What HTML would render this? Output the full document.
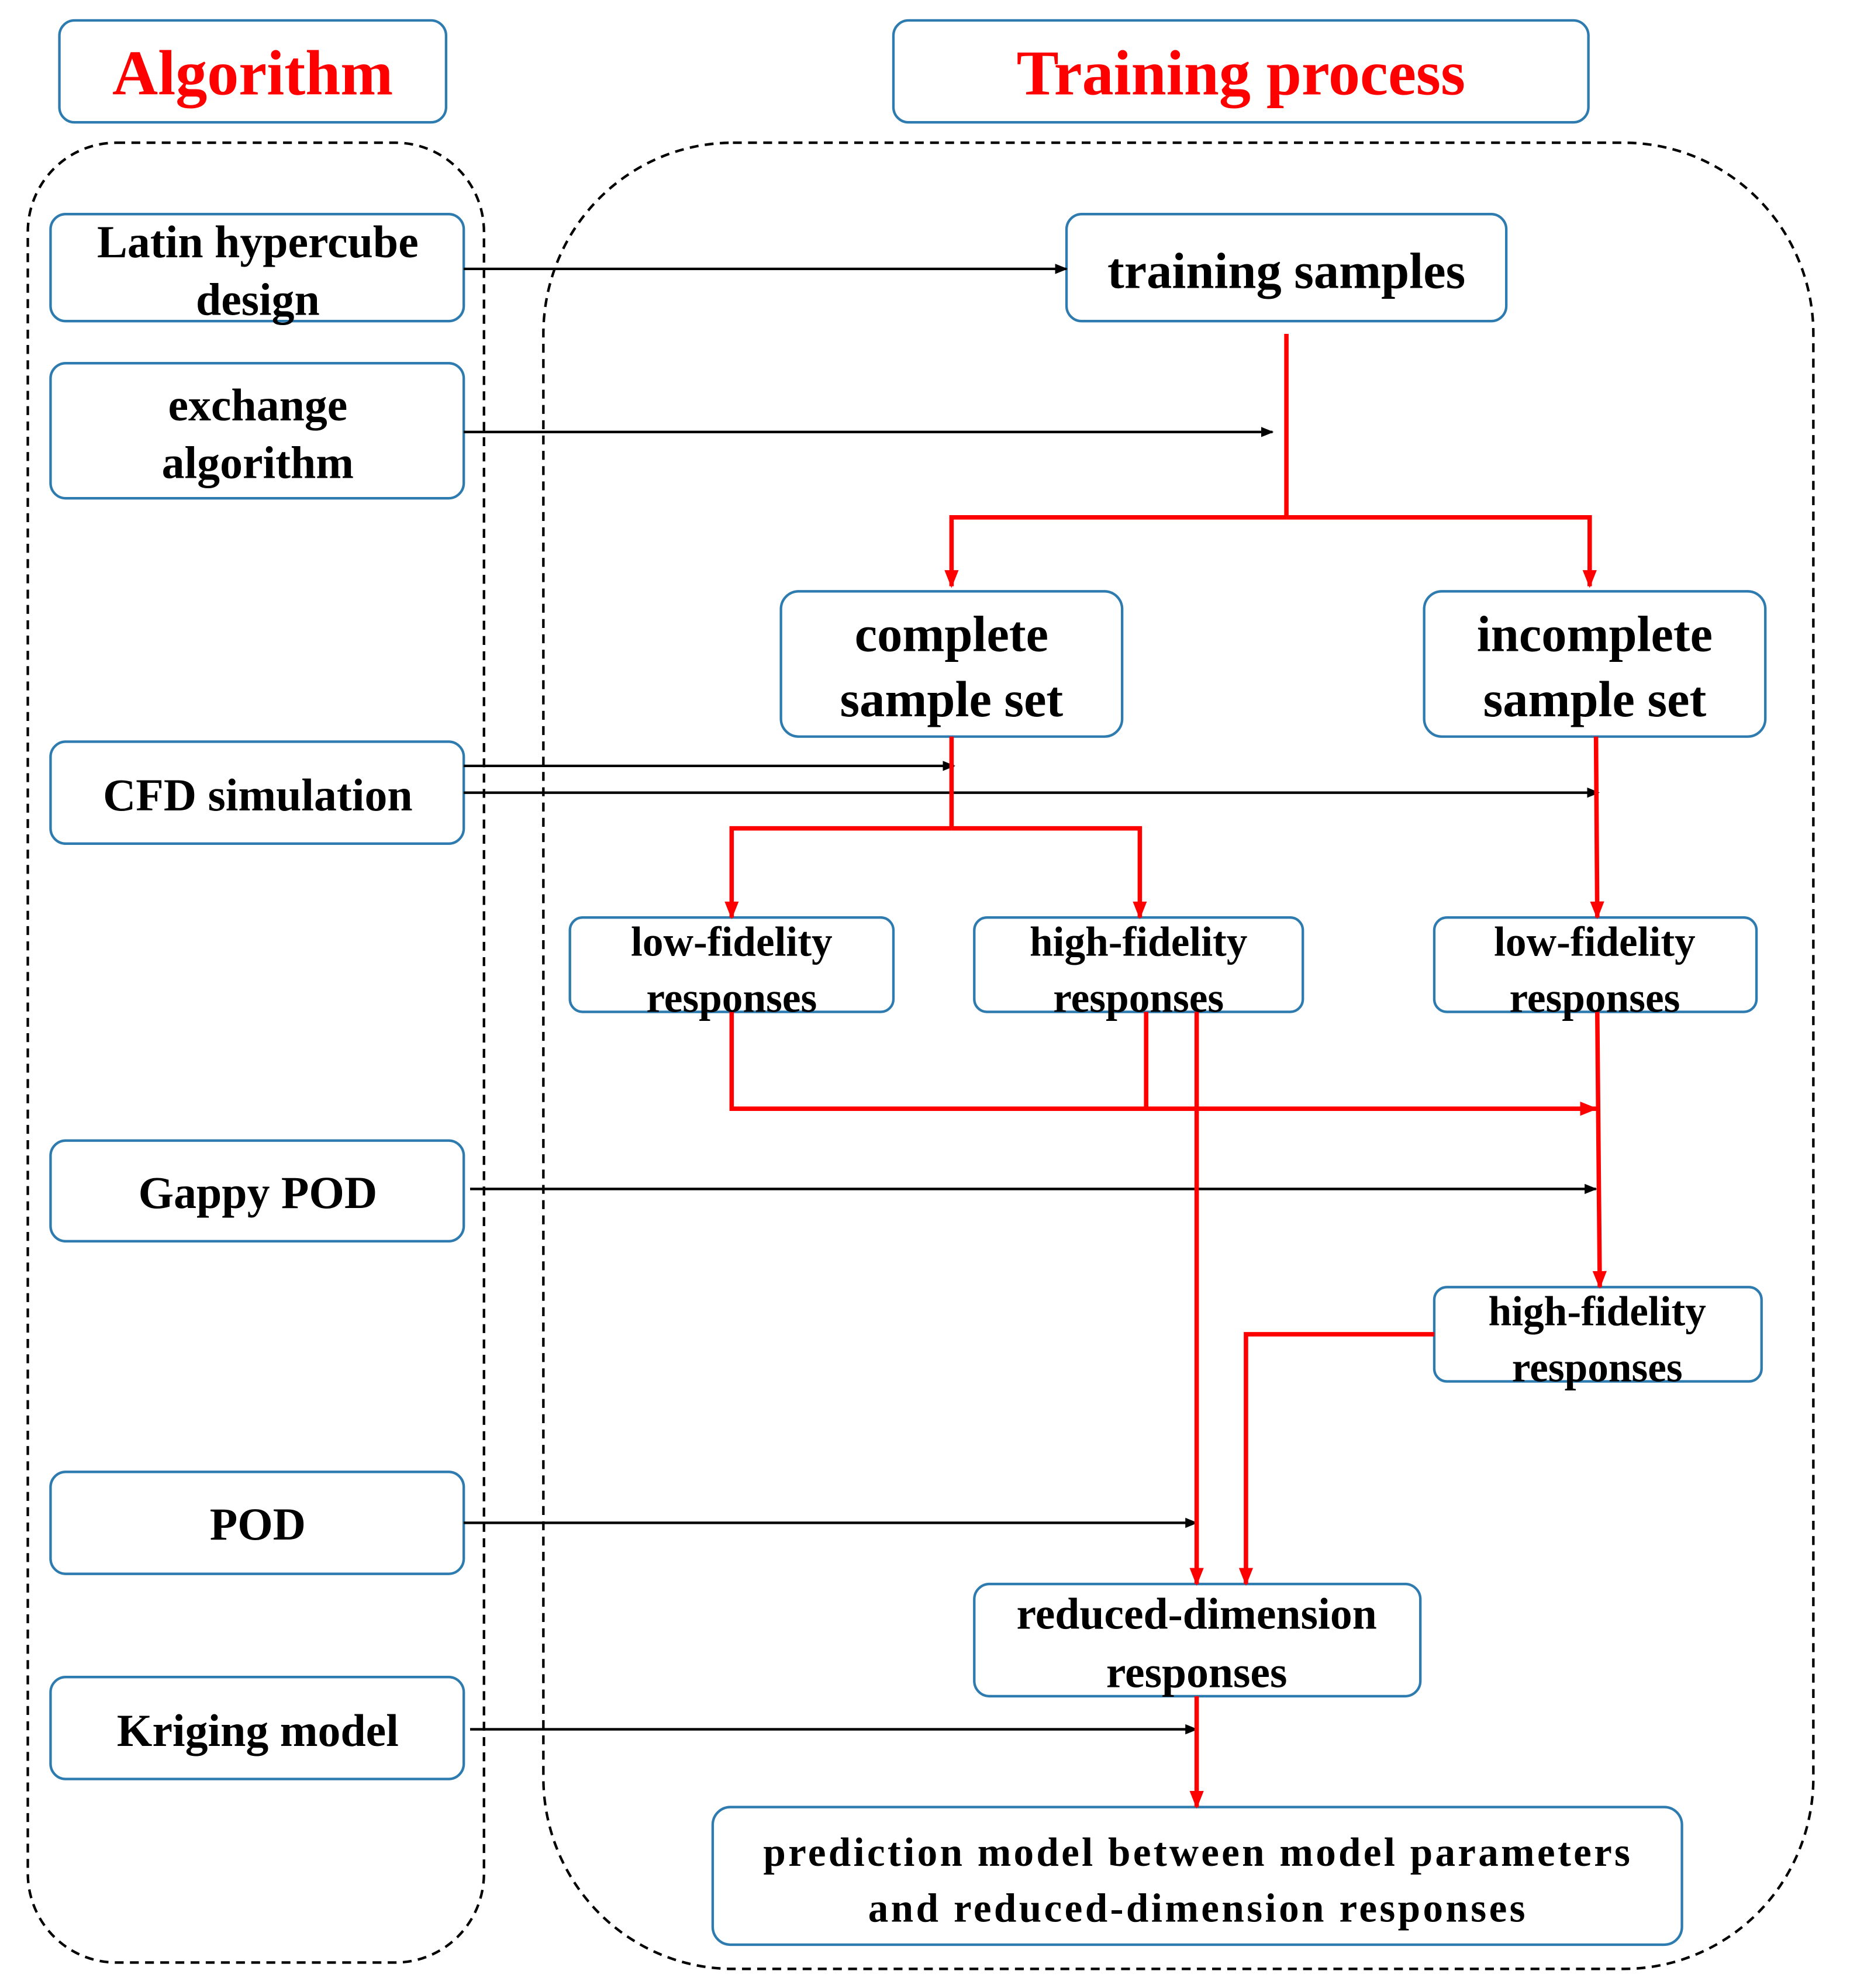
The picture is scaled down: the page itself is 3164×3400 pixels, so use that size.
<!DOCTYPE html>
<html><head><meta charset="utf-8"><style>html,body{margin:0;padding:0;background:#fff}svg{display:block}</style></head>
<body>
<svg width="3164" height="3400" viewBox="0 0 1464 1560" preserveAspectRatio="none" xmlns="http://www.w3.org/2000/svg" font-family="'Liberation Serif', serif" font-weight="bold">
<defs>
<marker id="ab" viewBox="0 0 10 10" refX="9" refY="5" markerWidth="5" markerHeight="5" orient="auto"><path d="M0,1 L10,5 L0,9 z" fill="#000"/></marker>
<marker id="ar" viewBox="0 0 10 10" refX="9" refY="5" markerWidth="4" markerHeight="4" orient="auto"><path d="M0,1 L10,5 L0,9 z" fill="#f00"/></marker>
</defs>
<g fill="none" stroke="#000" stroke-width="2" stroke-dasharray="7,5">
<rect x="22" y="112" width="361" height="1428" rx="70"/>
<rect x="430" y="112" width="1005" height="1433" rx="150"/>
</g>
<g fill="#fff" stroke="#2e7bb0" stroke-width="2">
<rect x="47" y="16" width="306" height="80" rx="12"/>
<rect x="707" y="16" width="550" height="80" rx="12"/>
<rect x="40" y="168" width="327" height="84" rx="12"/>
<rect x="40" y="285" width="327" height="106" rx="12"/>
<rect x="40" y="582" width="327" height="80" rx="12"/>
<rect x="40" y="895" width="327" height="79" rx="12"/>
<rect x="40" y="1155" width="327" height="80" rx="12"/>
<rect x="40" y="1316" width="327" height="80" rx="12"/>
<rect x="844" y="168" width="348" height="84" rx="12"/>
<rect x="618" y="464" width="270" height="114" rx="14"/>
<rect x="1127" y="464" width="270" height="114" rx="14"/>
<rect x="451" y="720" width="256" height="74" rx="10"/>
<rect x="771" y="720" width="260" height="74" rx="10"/>
<rect x="1135" y="720" width="255" height="74" rx="10"/>
<rect x="1135" y="1010" width="259" height="74" rx="10"/>
<rect x="771" y="1243" width="353" height="88" rx="12"/>
<rect x="564" y="1418" width="767" height="108" rx="14"/>
</g>
<g stroke="#000" stroke-width="2" fill="none" marker-end="url(#ab)">
<line x1="367" y1="211" x2="844" y2="211"/>
<line x1="367" y1="339" x2="1007" y2="339"/>
<line x1="367" y1="601" x2="755" y2="601"/>
<line x1="367" y1="622" x2="1265" y2="622"/>
<line x1="372" y1="933" x2="1263" y2="933"/>
<line x1="367" y1="1195" x2="947" y2="1195"/>
<line x1="372" y1="1357" x2="947" y2="1357"/>
</g>
<g stroke="#f00" stroke-width="3.5" fill="none">
<polyline points="1018,262 1018,406"/>
<polyline points="1018,406 753,406 753,460" marker-end="url(#ar)"/>
<polyline points="1018,406 1258,406 1258,460" marker-end="url(#ar)"/>
<polyline points="753,578 753,650"/>
<polyline points="753,650 579,650 579,720" marker-end="url(#ar)"/>
<polyline points="753,650 902,650 902,720" marker-end="url(#ar)"/>
<polyline points="1263,578 1264,720" marker-end="url(#ar)"/>
<polyline points="579,794 579,870 1263,870" marker-end="url(#ar)"/>
<polyline points="907,794 907,870"/>
<polyline points="947,794 947,1243" marker-end="url(#ar)"/>
<polyline points="1264,794 1266,1010" marker-end="url(#ar)"/>
<polyline points="1135,1047 986,1047 986,1243" marker-end="url(#ar)"/>
<polyline points="947,1331 947,1418" marker-end="url(#ar)"/>
</g>
<g text-anchor="middle" fill="#000">
<text x="200" y="74" font-size="50" fill="#f00">Algorithm</text>
<text x="982" y="74" font-size="50" fill="#f00">Training process</text>
<text x="204" y="202" font-size="36">Latin hypercube</text>
<text x="204" y="247" font-size="36">design</text>
<text x="204" y="330" font-size="36">exchange</text>
<text x="204" y="375" font-size="36">algorithm</text>
<text x="204" y="636" font-size="36">CFD simulation</text>
<text x="204" y="948" font-size="36">Gappy POD</text>
<text x="204" y="1208" font-size="36">POD</text>
<text x="204" y="1370" font-size="36">Kriging model</text>
<text x="1018" y="226" font-size="40">training samples</text>
<text x="753" y="511" font-size="40">complete</text>
<text x="753" y="562" font-size="40">sample set</text>
<text x="1262" y="511" font-size="40">incomplete</text>
<text x="1262" y="562" font-size="40">sample set</text>
<text x="579" y="750" font-size="33">low-fidelity</text>
<text x="579" y="794" font-size="33">responses</text>
<text x="901" y="750" font-size="33">high-fidelity</text>
<text x="901" y="794" font-size="33">responses</text>
<text x="1262" y="750" font-size="33">low-fidelity</text>
<text x="1262" y="794" font-size="33">responses</text>
<text x="1264" y="1040" font-size="33">high-fidelity</text>
<text x="1264" y="1084" font-size="33">responses</text>
<text x="947" y="1278" font-size="35">reduced-dimension</text>
<text x="947" y="1324" font-size="35">responses</text>
<text x="947" y="1464" font-size="32" textLength="686" lengthAdjust="spacing">prediction model between model parameters</text>
<text x="947" y="1508" font-size="32" textLength="520" lengthAdjust="spacing">and reduced-dimension responses</text>
</g>
</svg>
</body></html>
